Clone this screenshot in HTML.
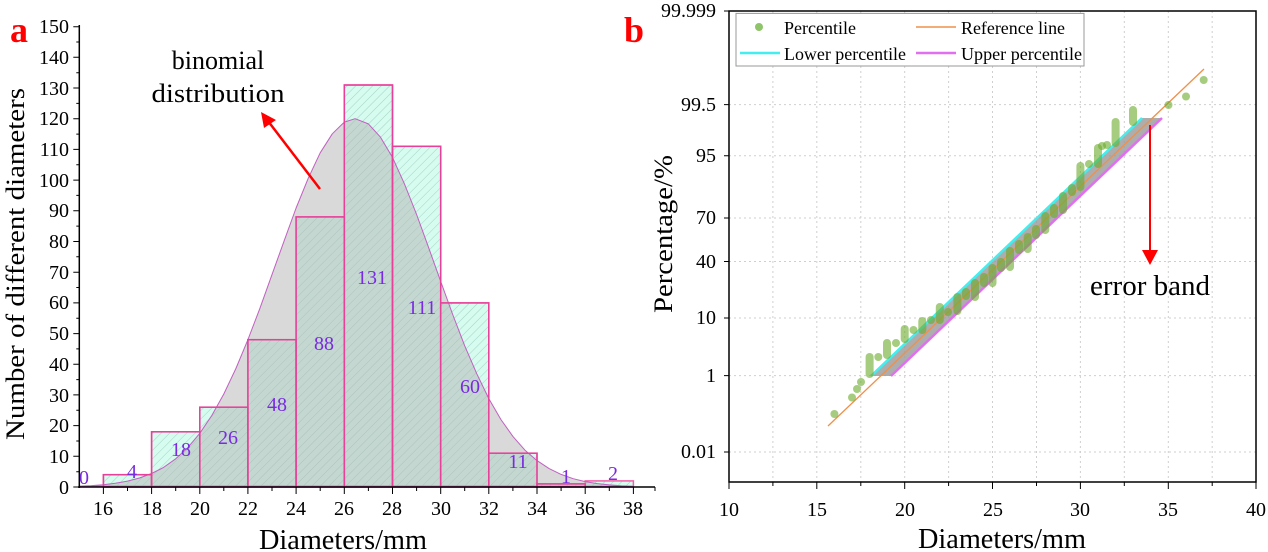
<!DOCTYPE html>
<html><head><meta charset="utf-8"><style>
html,body{margin:0;padding:0;background:#fff;}
svg{display:block;font-family:"Liberation Serif",serif;}
</style></head><body>
<svg width="1268" height="552" viewBox="0 0 1268 552" xmlns="http://www.w3.org/2000/svg">
<defs>
<pattern id="h" width="6" height="6" patternUnits="userSpaceOnUse" patternTransform="rotate(45)">
<rect width="6" height="6" fill="#d6fbef"/><line x1="0" y1="0" x2="0" y2="6" stroke="#a5d3c5" stroke-width="1"/>
</pattern>
</defs>
<!-- Chart a -->
<text x="10" y="42" font-size="36" font-weight="bold" fill="#f00">a</text>
<g stroke="#f060a8" stroke-width="1.5" fill="url(#h)">
<rect x="103.4" y="474.7" width="48.2" height="12.3"/>
<rect x="151.6" y="431.8" width="48.2" height="55.2"/>
<rect x="199.8" y="407.2" width="48.1" height="79.8"/>
<rect x="247.9" y="339.7" width="48.2" height="147.3"/>
<rect x="296.1" y="216.9" width="48.2" height="270.1"/>
<rect x="344.3" y="85" width="48.2" height="402"/>
<rect x="392.5" y="146.3" width="48.2" height="340.7"/>
<rect x="440.7" y="302.9" width="48.1" height="184.1"/>
<rect x="488.8" y="453.2" width="48.2" height="33.8"/>
<rect x="537" y="483.9" width="48.2" height="3.1"/>
<rect x="585.2" y="480.9" width="48.2" height="6.1"/>
</g>
<path d="M79.3,486.1 L91.3,485.6 L103.4,484.7 L115.4,483.2 L127.5,481.1 L139.5,478 L151.6,473.5 L163.6,467.4 L175.7,458.8 L187.7,447.7 L199.8,433.3 L211.8,415.5 L223.8,394 L235.9,368.5 L247.9,339.7 L260,308.1 L272,274.6 L284.1,240.9 L296.1,208 L308.2,178.3 L320.2,152.8 L332.3,133.8 L344.3,122.1 L355.1,118.7 L368.4,123.9 L380.4,137.1 L392.5,157.4 L404.5,184.1 L416.6,214.5 L428.6,247.6 L440.7,281.4 L452.7,314.5 L464.7,345.8 L476.8,373.8 L488.8,398.6 L500.9,419.5 L512.9,436.4 L525,450.2 L537,460.6 L549.1,468.6 L561.1,474.4 L573.2,478.7 L585.2,481.6 L597.3,483.6 L609.3,484.9 L621.4,485.7 L633.4,486.2 Z" fill="#b4b4b4" fill-opacity="0.5" stroke="#c060c0" stroke-width="1" stroke-linejoin="round"/>
<g stroke="#e8409a" stroke-width="1.5" fill="none">
<rect x="103.4" y="474.7" width="48.2" height="12.3"/><rect x="151.6" y="431.8" width="48.2" height="55.2"/><rect x="199.8" y="407.2" width="48.1" height="79.8"/><rect x="247.9" y="339.7" width="48.2" height="147.3"/><rect x="296.1" y="216.9" width="48.2" height="270.1"/><rect x="344.3" y="85" width="48.2" height="402"/><rect x="392.5" y="146.3" width="48.2" height="340.7"/><rect x="440.7" y="302.9" width="48.1" height="184.1"/><rect x="488.8" y="453.2" width="48.2" height="33.8"/><rect x="537" y="483.9" width="48.2" height="3.1"/>
</g>
<g font-size="20" fill="#7a2ae0" text-anchor="middle">
<text x="84" y="484">0</text><text x="132" y="478">4</text><text x="181" y="456">18</text><text x="228" y="444">26</text><text x="277" y="411">48</text><text x="324" y="350">88</text><text x="372" y="284">131</text><text x="422" y="314">111</text><text x="470" y="393">60</text><text x="518" y="468">11</text><text x="566" y="483">1</text><text x="613" y="480">2</text>
</g>
<g stroke="#000" stroke-width="1.5"><line x1="79.3" y1="25" x2="79.3" y2="488"/><line x1="78" y1="487" x2="655" y2="487"/></g>
<g stroke="#000" stroke-width="1">
<path d="M79.3,487h-6M79.3,471.7h-3M79.3,456.3h-6M79.3,441h-3M79.3,425.6h-6M79.3,410.3h-3M79.3,394.9h-6M79.3,379.6h-3M79.3,364.2h-6M79.3,348.9h-3M79.3,333.6h-6M79.3,318.2h-3M79.3,302.9h-6M79.3,287.5h-3M79.3,272.2h-6M79.3,256.8h-3M79.3,241.5h-6M79.3,226.1h-3M79.3,210.8h-6M79.3,195.4h-3M79.3,180.1h-6M79.3,164.8h-3M79.3,149.4h-6M79.3,134.1h-3M79.3,118.7h-6M79.3,103.4h-3M79.3,88h-6M79.3,72.7h-3M79.3,57.3h-6M79.3,42h-3M79.3,26.7h-6"/>
<path d="M103.4,487v7M127.5,487v4M151.6,487v7M175.7,487v4M199.8,487v7M223.8,487v4M247.9,487v7M272,487v4M296.1,487v7M320.2,487v4M344.3,487v7M368.4,487v4M392.5,487v7M416.6,487v4M440.7,487v7M464.7,487v4M488.8,487v7M512.9,487v4M537,487v7M561.1,487v4M585.2,487v7M609.3,487v4M633.4,487v7M655,487v4"/>
</g>
<g font-size="20" text-anchor="end">
<text x="69" y="494">0</text><text x="69" y="463">10</text><text x="69" y="432">20</text><text x="69" y="402">30</text><text x="69" y="371">40</text><text x="69" y="340">50</text><text x="69" y="309">60</text><text x="69" y="279">70</text><text x="69" y="248">80</text><text x="69" y="217">90</text><text x="69" y="187">100</text><text x="69" y="156">110</text><text x="69" y="125">120</text><text x="69" y="95">130</text><text x="69" y="64">140</text><text x="69" y="33">150</text>
</g>
<g font-size="20" text-anchor="middle">
<text x="103" y="515">16</text><text x="152" y="515">18</text><text x="200" y="515">20</text><text x="248" y="515">22</text><text x="296" y="515">24</text><text x="344" y="515">26</text><text x="392" y="515">28</text><text x="441" y="515">30</text><text x="489" y="515">32</text><text x="537" y="515">34</text><text x="585" y="515">36</text><text x="633" y="515">38</text>
</g>
<text x="343" y="549" font-size="28" text-anchor="middle" textLength="168" lengthAdjust="spacingAndGlyphs">Diameters/mm</text>
<text transform="translate(24,264) rotate(-90)" font-size="26" text-anchor="middle" textLength="352" lengthAdjust="spacingAndGlyphs">Number of different diameters</text>
<text x="218" y="69" font-size="26" text-anchor="middle">binomial</text>
<text x="218" y="102" font-size="26" text-anchor="middle" textLength="133" lengthAdjust="spacingAndGlyphs">distribution</text>
<line x1="320" y1="189" x2="268" y2="121" stroke="#f00" stroke-width="2.5"/>
<polygon points="261,112 276,120 264,128" fill="#f00"/>

<!-- Chart b -->
<text x="624" y="42" font-size="36" font-weight="bold" fill="#f00">b</text>
<g stroke="#cfcfcf" stroke-width="1" stroke-dasharray="2,3">
<path d="M772.9,11V482M816.8,11V482M860.8,11V482M904.7,11V482M948.6,11V482M992.5,11V482M1036.5,11V482M1080.4,11V482M1124.3,11V482M1168.3,11V482M1212.2,11V482"/>
<path d="M729,104.6H1256M729,155.8H1256M729,218H1256M729,261.5H1256M729,318H1256M729,375.6H1256M729,452H1256"/>
</g>
<polygon points="871,376 1142,118 1162,118 891,376" fill="#999" fill-opacity="0.8"/>
<line x1="871" y1="376" x2="1142" y2="118" stroke="#4ee" stroke-width="2.5"/>
<line x1="891" y1="376" x2="1162" y2="118" stroke="#e070f0" stroke-width="2.5"/>
<line x1="828" y1="426" x2="1204" y2="69" stroke="#f0904a" stroke-width="1.3"/>
<g fill="#6aaa2a" fill-opacity="0.6">
<circle cx="834.4" cy="414" r="4"/><circle cx="852" cy="397.5" r="4"/><circle cx="857" cy="389" r="4"/><circle cx="861" cy="382" r="4"/>
<rect x="865.6" y="353" width="8" height="25" rx="4"/><circle cx="878.3" cy="357" r="4"/>
<rect x="883" y="339" width="8" height="20" rx="4"/><circle cx="896" cy="343" r="4"/>
<rect x="900.7" y="325" width="8" height="18" rx="4"/><circle cx="913.5" cy="330" r="4"/>
<rect x="918.3" y="317" width="8" height="17" rx="4"/><circle cx="931" cy="320" r="4"/>
<rect x="935.8" y="303" width="8" height="21" rx="4"/><circle cx="948" cy="312" r="4"/>
<rect x="953.4" y="293" width="8" height="22" rx="4"/><rect x="962" y="288" width="8" height="12" rx="4"/>
<rect x="971" y="279" width="8" height="22" rx="4"/><rect x="980" y="273" width="8" height="14" rx="4"/>
<rect x="988.5" y="264" width="8" height="23" rx="4"/><rect x="997" y="258" width="8" height="14" rx="4"/>
<rect x="1006" y="247" width="8" height="24" rx="4"/><rect x="1015" y="240" width="8" height="14" rx="4"/>
<rect x="1023.7" y="233" width="8" height="20" rx="4"/><rect x="1032" y="225" width="8" height="14" rx="4"/>
<rect x="1041.3" y="212" width="8" height="22" rx="4"/><rect x="1050" y="204" width="8" height="14" rx="4"/>
<rect x="1059" y="192" width="8" height="22" rx="4"/><rect x="1068" y="184" width="8" height="12" rx="4"/>
<rect x="1076.4" y="162" width="8" height="29" rx="4"/><circle cx="1089" cy="164" r="4"/>
<rect x="1094" y="144" width="8" height="24" rx="4"/><circle cx="1102" cy="146" r="4"/><circle cx="1107" cy="145" r="4"/>
<rect x="1111.6" y="118" width="8" height="29" rx="4"/>
<rect x="1129" y="106" width="8" height="20" rx="4"/>
<circle cx="1168.5" cy="105" r="4"/><circle cx="1186" cy="96.5" r="4"/><circle cx="1203.7" cy="80" r="4"/>
</g>
<g stroke="#000" stroke-width="1.5" fill="none">
<rect x="729" y="11" width="527" height="471"/>
</g>
<g stroke="#000" stroke-width="1">
<path d="M729,482v7M772.9,482v4M816.8,482v7M860.8,482v4M904.7,482v7M948.6,482v4M992.5,482v7M1036.5,482v4M1080.4,482v7M1124.3,482v4M1168.3,482v7M1212.2,482v4M1256,482v7"/>
<path d="M729,11h-5M729,104.6h-5M729,155.8h-5M729,218h-5M729,261.5h-5M729,318h-5M729,375.6h-5M729,452h-5"/>
</g>
<g font-size="20" text-anchor="end">
<text x="716" y="17">99.999</text><text x="716" y="111">99.5</text><text x="716" y="162">95</text><text x="716" y="224">70</text><text x="716" y="268">40</text><text x="716" y="324">10</text><text x="716" y="382">1</text><text x="716" y="458">0.01</text>
</g>
<g font-size="20" text-anchor="middle">
<text x="729" y="516">10</text><text x="817" y="516">15</text><text x="905" y="516">20</text><text x="993" y="516">25</text><text x="1080" y="516">30</text><text x="1168" y="516">35</text><text x="1256" y="516">40</text>
</g>
<text x="1002" y="548" font-size="28" text-anchor="middle" textLength="168" lengthAdjust="spacingAndGlyphs">Diameters/mm</text>
<text transform="translate(672,234) rotate(-90)" font-size="26" text-anchor="middle" textLength="158" lengthAdjust="spacingAndGlyphs">Percentage/%</text>
<rect x="736" y="13.4" width="348" height="52.6" fill="#fff" stroke="#999" stroke-width="1"/>
<circle cx="759" cy="27" r="4" fill="#8fc46a"/>
<line x1="916" y1="27" x2="956" y2="27" stroke="#f0904a" stroke-width="1.5"/>
<line x1="740" y1="53" x2="780" y2="53" stroke="#4ee" stroke-width="2.5"/>
<line x1="916" y1="53" x2="956" y2="53" stroke="#e070f0" stroke-width="2.5"/>
<g font-size="18"><text x="784" y="34" textLength="72" lengthAdjust="spacingAndGlyphs">Percentile</text><text x="961" y="34" textLength="104" lengthAdjust="spacingAndGlyphs">Reference line</text><text x="784" y="60" textLength="122" lengthAdjust="spacingAndGlyphs">Lower percentile</text><text x="961" y="60" textLength="121" lengthAdjust="spacingAndGlyphs">Upper percentile</text></g>
<line x1="1150" y1="125" x2="1150" y2="252" stroke="#f00" stroke-width="2"/>
<polygon points="1142,250 1158,250 1150,265" fill="#f00"/>
<text x="1090" y="295" font-size="28" textLength="120" lengthAdjust="spacingAndGlyphs">error band</text>
</svg>
</body></html>
